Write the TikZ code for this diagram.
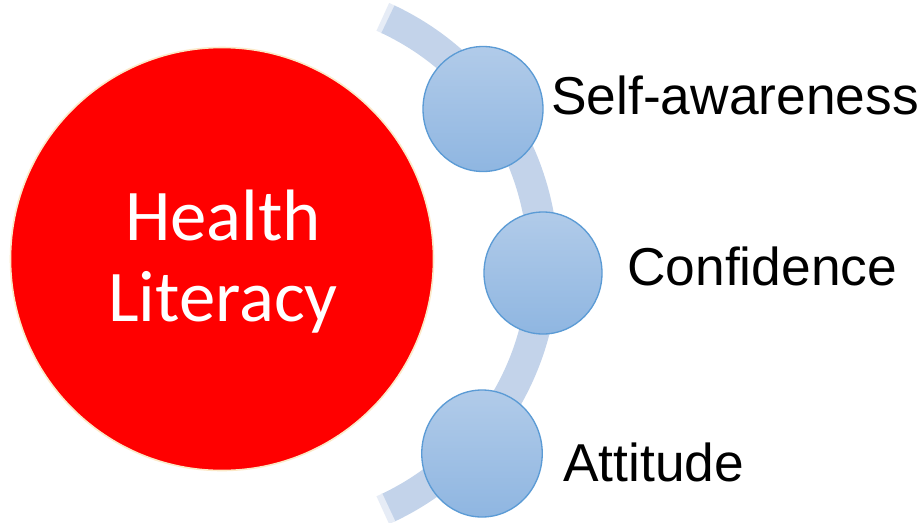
\documentclass[tikz,border=0pt]{standalone}
\usetikzlibrary{shapes.geometric}
\usepackage{fontspec}
\setmainfont{Liberation Sans}
\newfontfamily\carl{Carlito}
\definecolor{bandc}{HTML}{C3D3EA}
\definecolor{bandf}{HTML}{E6ECF6}
\definecolor{topc}{HTML}{B1CBE9}
\definecolor{botc}{HTML}{8FB6E1}
\definecolor{edgec}{HTML}{5B9BD5}
\definecolor{rimc}{HTML}{FBE9C8}
\tikzset{
  disc/.style={ellipse,inner sep=0pt,draw=edgec,line width=1pt,top color=topc,bottom color=botc,shading angle=0},
  lbl/.style={font=\fontsize{40pt}{44pt}\selectfont,text=black,inner sep=0pt,anchor=base west},
  band/.style={line width=30.5*0.75pt,draw=bandc},
  fade/.style={line width=30.5*0.75pt,draw=bandf}
}
\begin{document}
\begin{tikzpicture}[x=0.75pt,y=-0.75pt]
\useasboundingbox (0,0) rectangle (924,522);
\fill[white] (0,0) rectangle (924,522);
\coordinate (arcc) at (273,263.5);
% curved band
\draw[fade] ([shift={(-66:270)}]arcc) arc[start angle=-66,end angle=-64.6,radius=270];
\draw[band] ([shift={(-64.8:270)}]arcc) arc[start angle=-64.8,end angle=64.8,radius=270];
\draw[fade] ([shift={(64.6:270)}]arcc) arc[start angle=64.6,end angle=66,radius=270];
% main circle
\node[circle,inner sep=0pt,minimum size=423*0.75pt,fill=red,draw=rimc,line width=1.2pt] (main) at (222,259) {};
\node[align=center,text=white,font=\carl\fontsize{54.6pt}{60.75pt}\selectfont,inner sep=0pt] (title) at (223,262) {Health\\Literacy};
% discs
\node[disc,minimum width=120*0.75pt,minimum height=125*0.75pt] (d1) at (483,109) {};
\node[disc,minimum width=118*0.75pt,minimum height=122*0.75pt] (d2) at (543,273) {};
\node[disc,minimum width=120.5*0.75pt,minimum height=127*0.75pt] (d3) at (482,453.5) {};
% labels
\node[lbl] (t1) at (551,114) {Self-awareness};
\node[lbl] (t2) at (627,285) {Confidence};
\node[lbl] (t3) at (563,481) {Attitude};
\end{tikzpicture}
\end{document}
